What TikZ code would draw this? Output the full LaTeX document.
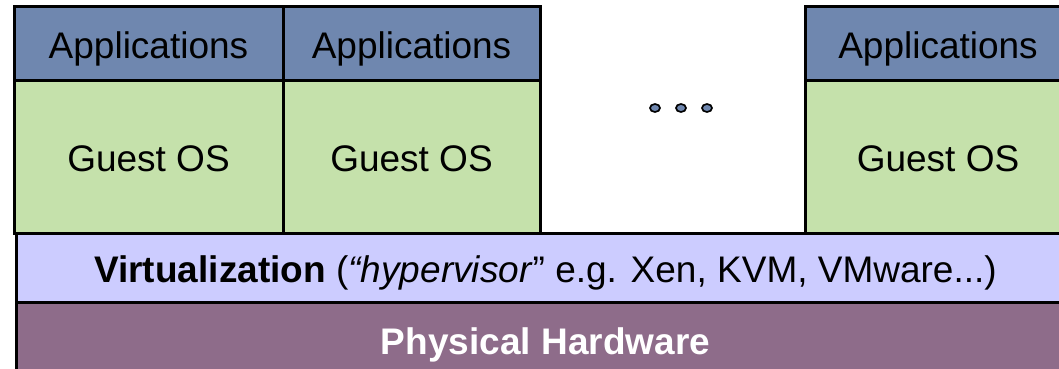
\documentclass[tikz,border=0pt]{standalone}
\usepackage{fontspec}
\setmainfont{Liberation Sans}
\definecolor{appblue}{HTML}{6F87AF}
\definecolor{guestgreen}{HTML}{C5E1AB}
\definecolor{virtlilac}{HTML}{CCCCFF}
\definecolor{hwpurple}{HTML}{8E6C8A}
\usetikzlibrary{shapes.geometric}
\tikzset{
  layer/.style={draw=black, line width=3pt, inner sep=0pt, outer sep=0pt,
    anchor=north west, font=\fontsize{37}{44}\selectfont,
    text height=30.5pt, text depth=0pt, text=black},
  appbox/.style={layer, fill=appblue, minimum height=73pt},
  guestbox/.style={layer, fill=guestgreen, minimum height=153pt},
  virtbox/.style={layer, fill=virtlilac, minimum width=1059pt, minimum height=69pt},
  hwbox/.style={layer, fill=hwpurple, minimum width=1059pt, minimum height=75pt,
    text=white, font=\fontsize{37}{44}\selectfont\bfseries},
  dotmark/.style={ellipse, draw=black, line width=1.7pt, fill=appblue,
    minimum width=10pt, minimum height=8pt, inner sep=0pt}
}
\begin{document}
\begin{tikzpicture}[x=1pt, y=-1pt]
  \useasboundingbox (0,0) rectangle (1059,369);
  \clip (0,0) rectangle (1059,369);
  % host layers
  \node[hwbox] (hw) at (16,302) {Physical Hardware};
  \node[virtbox] (virt) at (16,233)
    {\textbf{Virtualization} (\textit{“hypervisor}” e.g. Xen, KVM, VMware...)};
  % guest stacks
  \node[guestbox, minimum width=269pt] (guest1) at (14,80) {Guest OS};
  \node[appbox, minimum width=269pt] (app1) at (14,7) {Applications};
  \node[guestbox, minimum width=257pt] (guest2) at (283,80) {Guest OS};
  \node[appbox, minimum width=257pt] (app2) at (283,7) {Applications};
  \node[guestbox, minimum width=266pt] (guest3) at (805,80) {Guest OS};
  \node[appbox, minimum width=266pt] (app3) at (805,7) {Applications};
  % ellipsis between the stacks
  \node[dotmark] (dot1) at (655,108) {};
  \node[dotmark] (dot2) at (681,108) {};
  \node[dotmark] (dot3) at (707,108) {};
\end{tikzpicture}
\end{document}
